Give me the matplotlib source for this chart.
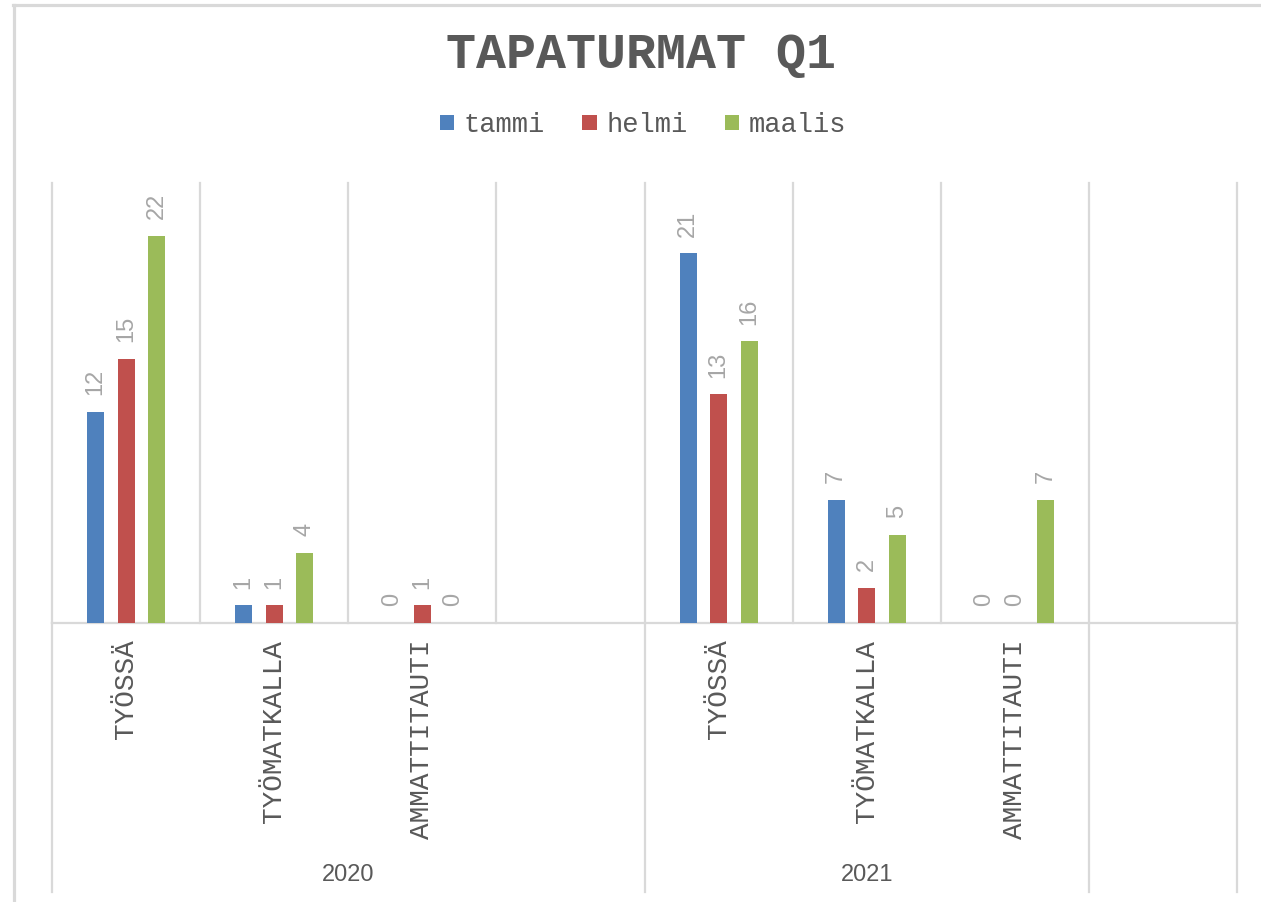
import numpy as np
import matplotlib
matplotlib.use("Agg")
import matplotlib.pyplot as plt
from matplotlib.patches import Patch
from matplotlib.lines import Line2D

# ---- data ----
categories = ["TYÖSSÄ", "TYÖMATKALLA", "AMMATTITAUTI", "",
              "TYÖSSÄ", "TYÖMATKALLA", "AMMATTITAUTI", ""]
years = ["2020", "2021", ""]
year_sizes = [4, 3, 1]
series_names = ["tammi", "helmi", "maalis"]
tammi = [12, 1, 0, np.nan, 21, 7, 0, np.nan]
helmi = [15, 1, 1, np.nan, 13, 2, 0, np.nan]
maalis = [22, 4, 0, np.nan, 16, 5, 7, np.nan]
title = "TAPATURMAT Q1"

colors = ["#4F81BD", "#C0504D", "#9BBB59"]
grid_c = "#D9D9D9"
text_c = "#595959"
label_c = "#A6A6A6"
mono = ["Liberation Mono", "DejaVu Sans Mono"]
sans = ["Liberation Sans", "DejaVu Sans"]

W, H = 1261, 902
fig = plt.figure(figsize=(W / 100, H / 100), dpi=100)
fig.patch.set_facecolor("white")

# chart border (left and top visible)
fig.add_artist(Line2D([13.5 / W, 13.5 / W], [0, 1 - 4.5 / H], transform=fig.transFigure,
                      color=grid_c, lw=2.3))
fig.add_artist(Line2D([12.5 / W, 1], [1 - 4.5 / H, 1 - 4.5 / H], transform=fig.transFigure,
                      color=grid_c, lw=2.3))

left, right, top, bottom = 52, 1237, 183, 623
ax = fig.add_axes([left / W, 1 - bottom / H, (right - left) / W, (bottom - top) / H])
ax.axis("off")
n = len(categories)
ax.set_xlim(-0.5, n - 0.5)
ax.set_ylim(0, 25)

x = np.arange(n)
offsets = [-0.206, 0.0, 0.206]
width = 0.115
all_series = [tammi, helmi, maalis]

# gridlines between categories
xt = ax.get_xaxis_transform()
for b in np.arange(-0.5, n, 1.0):
    ax.plot([b, b], [0, 1], transform=xt, color=grid_c, lw=1.6, clip_on=False, zorder=1)
ax.plot([-0.5, n - 0.5], [0, 0], color=grid_c, lw=1.6, clip_on=False, zorder=1)

# group separators below the axis
depth = -(892 - bottom) / (bottom - top)
bounds = np.concatenate([[0], np.cumsum(year_sizes)]) - 0.5
for b in bounds:
    ax.plot([b, b], [depth, 0], transform=xt, color=grid_c, lw=1.6, clip_on=False, zorder=1)

# bars and data labels
for vals, off, col in zip(all_series, offsets, colors):
    v = np.array(vals, dtype=float)
    ax.bar(x + off, np.nan_to_num(v), width=width, color=col, zorder=2)
    for xi, vi in zip(x + off, v):
        if np.isnan(vi):
            continue
        ax.annotate(f"{int(vi)}", xy=(xi, vi), xytext=(0, 12), textcoords="offset points",
                    rotation=90, ha="center", va="bottom", fontsize=17,
                    family=sans, color=label_c)

# category labels
for xi, c in zip(x, categories):
    if c:
        ax.annotate(c, xy=(xi, 0), xycoords=xt, xytext=(0, -12), textcoords="offset points",
                    rotation=90, ha="center", va="top", fontsize=20, family=mono, color=text_c)

# year labels
y_year = -(875 - bottom) / (bottom - top)
for i, yr in enumerate(years):
    if yr:
        cx = (bounds[i] + bounds[i + 1]) / 2
        ax.text(cx, y_year, yr, transform=xt, ha="center", va="center", fontsize=17,
                family=sans, color=text_c)

# title
fig.text(641 / W, 1 - 68 / H, title, ha="center", va="baseline", fontsize=36,
         fontweight="bold", family=mono, color=text_c)

# legend
handles = [Patch(facecolor=c, edgecolor="none") for c in colors]
fig.legend(handles, series_names, loc="center", bbox_to_anchor=(643 / W, 1 - 125 / H),
           ncol=3, frameon=False, prop={"family": mono, "size": 19.5},
           labelcolor=text_c, handlelength=0.52, handleheight=0.52, handletextpad=0.35,
           columnspacing=1.4, borderpad=0)

fig.savefig("out.png", dpi=100, facecolor="white")
